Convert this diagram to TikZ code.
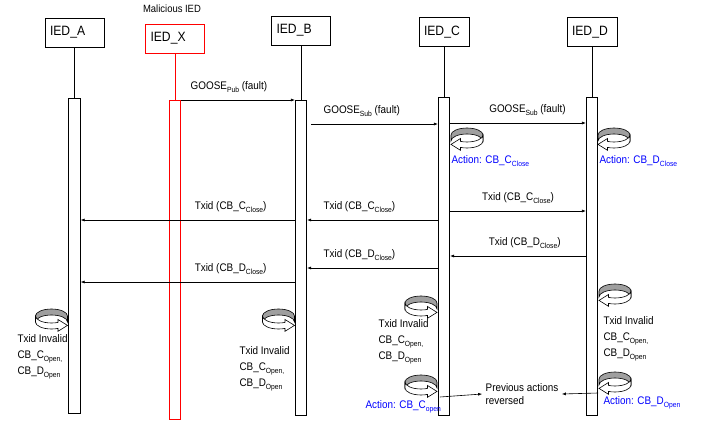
\documentclass[tikz,border=0pt]{standalone}
\usepackage{fontspec}
\setmainfont[FakeStretch=0.9]{Liberation Sans}
\usetikzlibrary{arrows.meta}
\newcommand{\sbs}[1]{\raisebox{-3pt}{\fontsize{7.5}{8}\selectfont #1}}

\begin{document}
\begin{tikzpicture}[x=1pt, y=-1pt,
	every node/.style={font=\fontsize{11}{16}\selectfont},
	ied/.style={draw, line width=0.6pt, minimum height=29pt, text width=49pt, inner xsep=5pt, align=left, font=\fontsize{13.5}{16}\selectfont},
	bar/.style={draw, fill=white, line width=0.6pt, minimum width=11.5pt, inner sep=0pt},
	msg/.style={line width=0.6pt, -{Latex[length=4pt,width=3pt]}},
	lbl/.style={above=4pt},
	act/.style={blue, anchor=west},
	note/.style={anchor=north west, align=left},
	pics/turn/.style={code={
		% back of the ribbon
		\filldraw[fill=gray!75, line width=0.6pt] (1,9) .. controls (1,5.13) and (8.2,2) .. (17,2) .. controls (25.8,2) and (33,5.13) .. (33,9) -- (33,15) .. controls (33,11.13) and (25.8,8) .. (17,8) .. controls (8.2,8) and (1,11.13) .. (1,15) -- cycle;
		% front of the ribbon with its head
		\filldraw[fill=white, line width=0.6pt] (33,9) .. controls (33,12.87) and (25.8,16) .. (17,16) .. controls (14.5,16) and (12.5,15.8) .. (10.5,15.4) -- (10.5,12.5) -- (1,18.4) -- (10.5,24.3) -- (10.5,21.4) .. controls (12.5,21.8) and (14.5,22) .. (17,22) .. controls (25.8,22) and (33,18.87) .. (33,15) -- cycle;
	}}]
	\useasboundingbox (0,0) rectangle (702,423);

	% devices
	\node[ied] (iedA) at (74.5,32.5) {IED\_A};
	\node[ied, draw=red] (iedX) at (175,38.5) {IED\_X};
	\node[ied] (iedB) at (301,30.5) {IED\_B};
	\node[ied, text width=40pt] (iedC) at (444,32) {IED\_C};
	\node[ied, text width=40pt] (iedD) at (592,32) {IED\_D};
	\node[font=\fontsize{10.5}{12}\selectfont] (mal) at (172,9) {Malicious IED};

	% activation bars
	\node[bar, minimum height=315pt] (barA) at (74.5,255.5) {};
	\node[bar, draw=red, minimum height=319pt] (barX) at (175,259.5) {};
	\node[bar, minimum height=315pt] (barB) at (301,257.5) {};
	\node[bar, minimum height=318pt] (barC) at (444,256) {};
	\node[bar, minimum height=318pt] (barD) at (592,256) {};

	\draw[line width=0.6pt] (iedA.south) -- (barA.north);
	\draw[line width=0.6pt, red] (iedX.south) -- (barX.north);
	\draw[line width=0.6pt] (iedB.south) -- (barB.north);
	\draw[line width=0.6pt] (iedC.south) -- (barC.north);
	\draw[line width=0.6pt] (iedD.south) -- (barD.north);

	% fault messages
	\draw[msg] (barX.east |- 0,100) -- (barB.west |- 0,100) node[lbl, pos=0.42] {GOOSE\sbs{Pub} (fault)};
	\draw[msg] ([xshift=4pt]barB.east |- 0,124) -- (barC.west |- 0,124) node[lbl, pos=0.4] {GOOSE\sbs{Sub} (fault)};
	\draw[msg] (barC.east |- 0,123) -- (barD.west |- 0,123) node[lbl, pos=0.57] {GOOSE\sbs{Sub} (fault)};
	\pic at (450,126) {turn};
	\pic at (597,126) {turn};
	\node[act] (actC) at (448,161) {Action: CB\_C\sbs{Close}};
	\node[act] (actD) at (596,161) {Action: CB\_D\sbs{Close}};

	% transaction ids
	\draw[msg] (barC.east |- 0,211) -- (barD.west |- 0,211) node[lbl, midway] {Txid (CB\_C\sbs{Close})};
	\draw[msg] (barC.west |- 0,220) -- (barB.east |- 0,220) node[lbl, pos=0.6] {Txid (CB\_C\sbs{Close})};
	\draw[msg] (barB.west |- 0,220) -- (barA.east |- 0,220) node[lbl, pos=0.3] {Txid (CB\_C\sbs{Close})};
	\draw[msg] (barD.west |- 0,256) -- (barC.east |- 0,256) node[lbl, pos=0.45] {Txid (CB\_D\sbs{Close})};
	\draw[msg] (barC.west |- 0,268) -- (barB.east |- 0,268) node[lbl, pos=0.6] {Txid (CB\_D\sbs{Close})};
	\draw[msg] (barB.west |- 0,282) -- (barA.east |- 0,282) node[lbl, pos=0.3] {Txid (CB\_D\sbs{Close})};

	% rejection
	\pic[xscale=-1] at (68.5,307) {turn};
	\pic[xscale=-1] at (295.5,307) {turn};
	\pic[xscale=-1] at (438,294) {turn};
	\pic at (598,282) {turn};
	\node[note] (invA) at (14,331) {Txid Invalid\\CB\_C\sbs{Open,}\\CB\_D\sbs{Open}};
	\node[note] (invB) at (236,343) {Txid Invalid\\CB\_C\sbs{Open,}\\CB\_D\sbs{Open}};
	\node[note] (invC) at (375,316) {Txid Invalid\\CB\_C\sbs{Open,}\\CB\_D\sbs{Open}};
	\node[note] (invD) at (600,313) {Txid Invalid\\CB\_C\sbs{Open,}\\CB\_D\sbs{Open}};

	% rollback
	\pic[xscale=-1] at (438,373) {turn};
	\pic at (598,370) {turn};
	\node[act] (actC2) at (362,407) {Action: CB\_C\sbs{open}};
	\node[act] (actD2) at (600,403) {Action: CB\_D\sbs{Open}};
	\node[align=left, font=\fontsize{11}{13}\selectfont] (prev) at (522,394) {Previous actions\\reversed};
	\draw[msg] ([xshift=2pt]barC.west |- 0,397) -- (prev.west);
	\draw[msg] (barD.east |- 0,393) -- (prev.east);
\end{tikzpicture}
\end{document}
